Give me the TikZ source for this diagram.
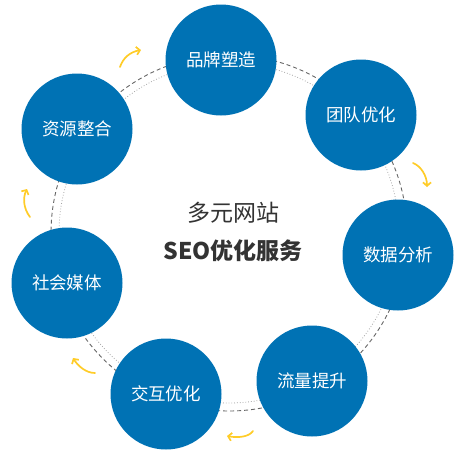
\documentclass[tikz,border=0pt]{standalone}
\usepackage{fontspec}
\setmainfont{Noto Sans CJK SC}
\usetikzlibrary{arrows.meta}
\definecolor{blueC}{RGB}{0,114,180}
\definecolor{arrowY}{RGB}{255,204,40}
\definecolor{txt}{RGB}{51,51,51}
\begin{document}
\begin{tikzpicture}[x=1pt,y=-1pt,
  bubble/.style={circle,fill=blueC,minimum size=111pt,inner sep=0pt,text=white,font=\fontsize{17.5}{20}\selectfont},
  flow/.style={draw=arrowY,line width=1.7pt,line cap=round,-{Straight Barb[length=3.5pt,width=8pt,line width=1.7pt]}},
  outerring/.style={draw=black!60,line width=0.9pt,dash pattern=on 4pt off 3pt},
  innerring/.style={draw=black!35,line width=0.8pt,dotted}]
\useasboundingbox (0,0) rectangle (467,467);
\coordinate (c) at (229,233);
\draw[outerring] (c) circle[radius=178pt];
\draw[innerring] (c) circle[radius=170pt];
\node[bubble] (brand) at (221,60) {品牌塑造};
\node[bubble] (team) at (361,115) {团队优化};
\node[bubble] (data) at (398,255) {数据分析};
\node[bubble] (flowup) at (312,381) {流量提升};
\node[bubble] (inter) at (166,394) {交互优化};
\node[bubble] (social) at (67,283) {社会媒体};
\node[bubble] (res) at (77,129) {资源整合};
\node[text=txt,font=\fontsize{23}{26}\selectfont] (t1) at (233,213) {多元网站};
\node[text=txt,font=\fontsize{23}{26}\selectfont\bfseries] (t2) at (233,251) {SEO优化服务};
\coordinate (a1s) at (120,67); \coordinate (a1e) at (141,50);
\coordinate (a2s) at (413,163); \coordinate (a2e) at (427,187);
\coordinate (a3s) at (253,431); \coordinate (a3e) at (227,436);
\coordinate (a4s) at (95,373); \coordinate (a4e) at (73,358);
\coordinate (a5s) at (30,217); \coordinate (a5e) at (27,189);
\draw[flow] (a1s) .. controls (123,58) and (130,52) .. (a1e);
\draw[flow] (a2s) .. controls (421,166) and (427,176) .. (a2e);
\draw[flow] (a3s) .. controls (249,437) and (238,438) .. (a3e);
\draw[flow] (a4s) .. controls (86,373) and (78,366) .. (a4e);
\draw[flow] (a5s) .. controls (23,208) and (23,197) .. (a5e);
\end{tikzpicture}
\end{document}
